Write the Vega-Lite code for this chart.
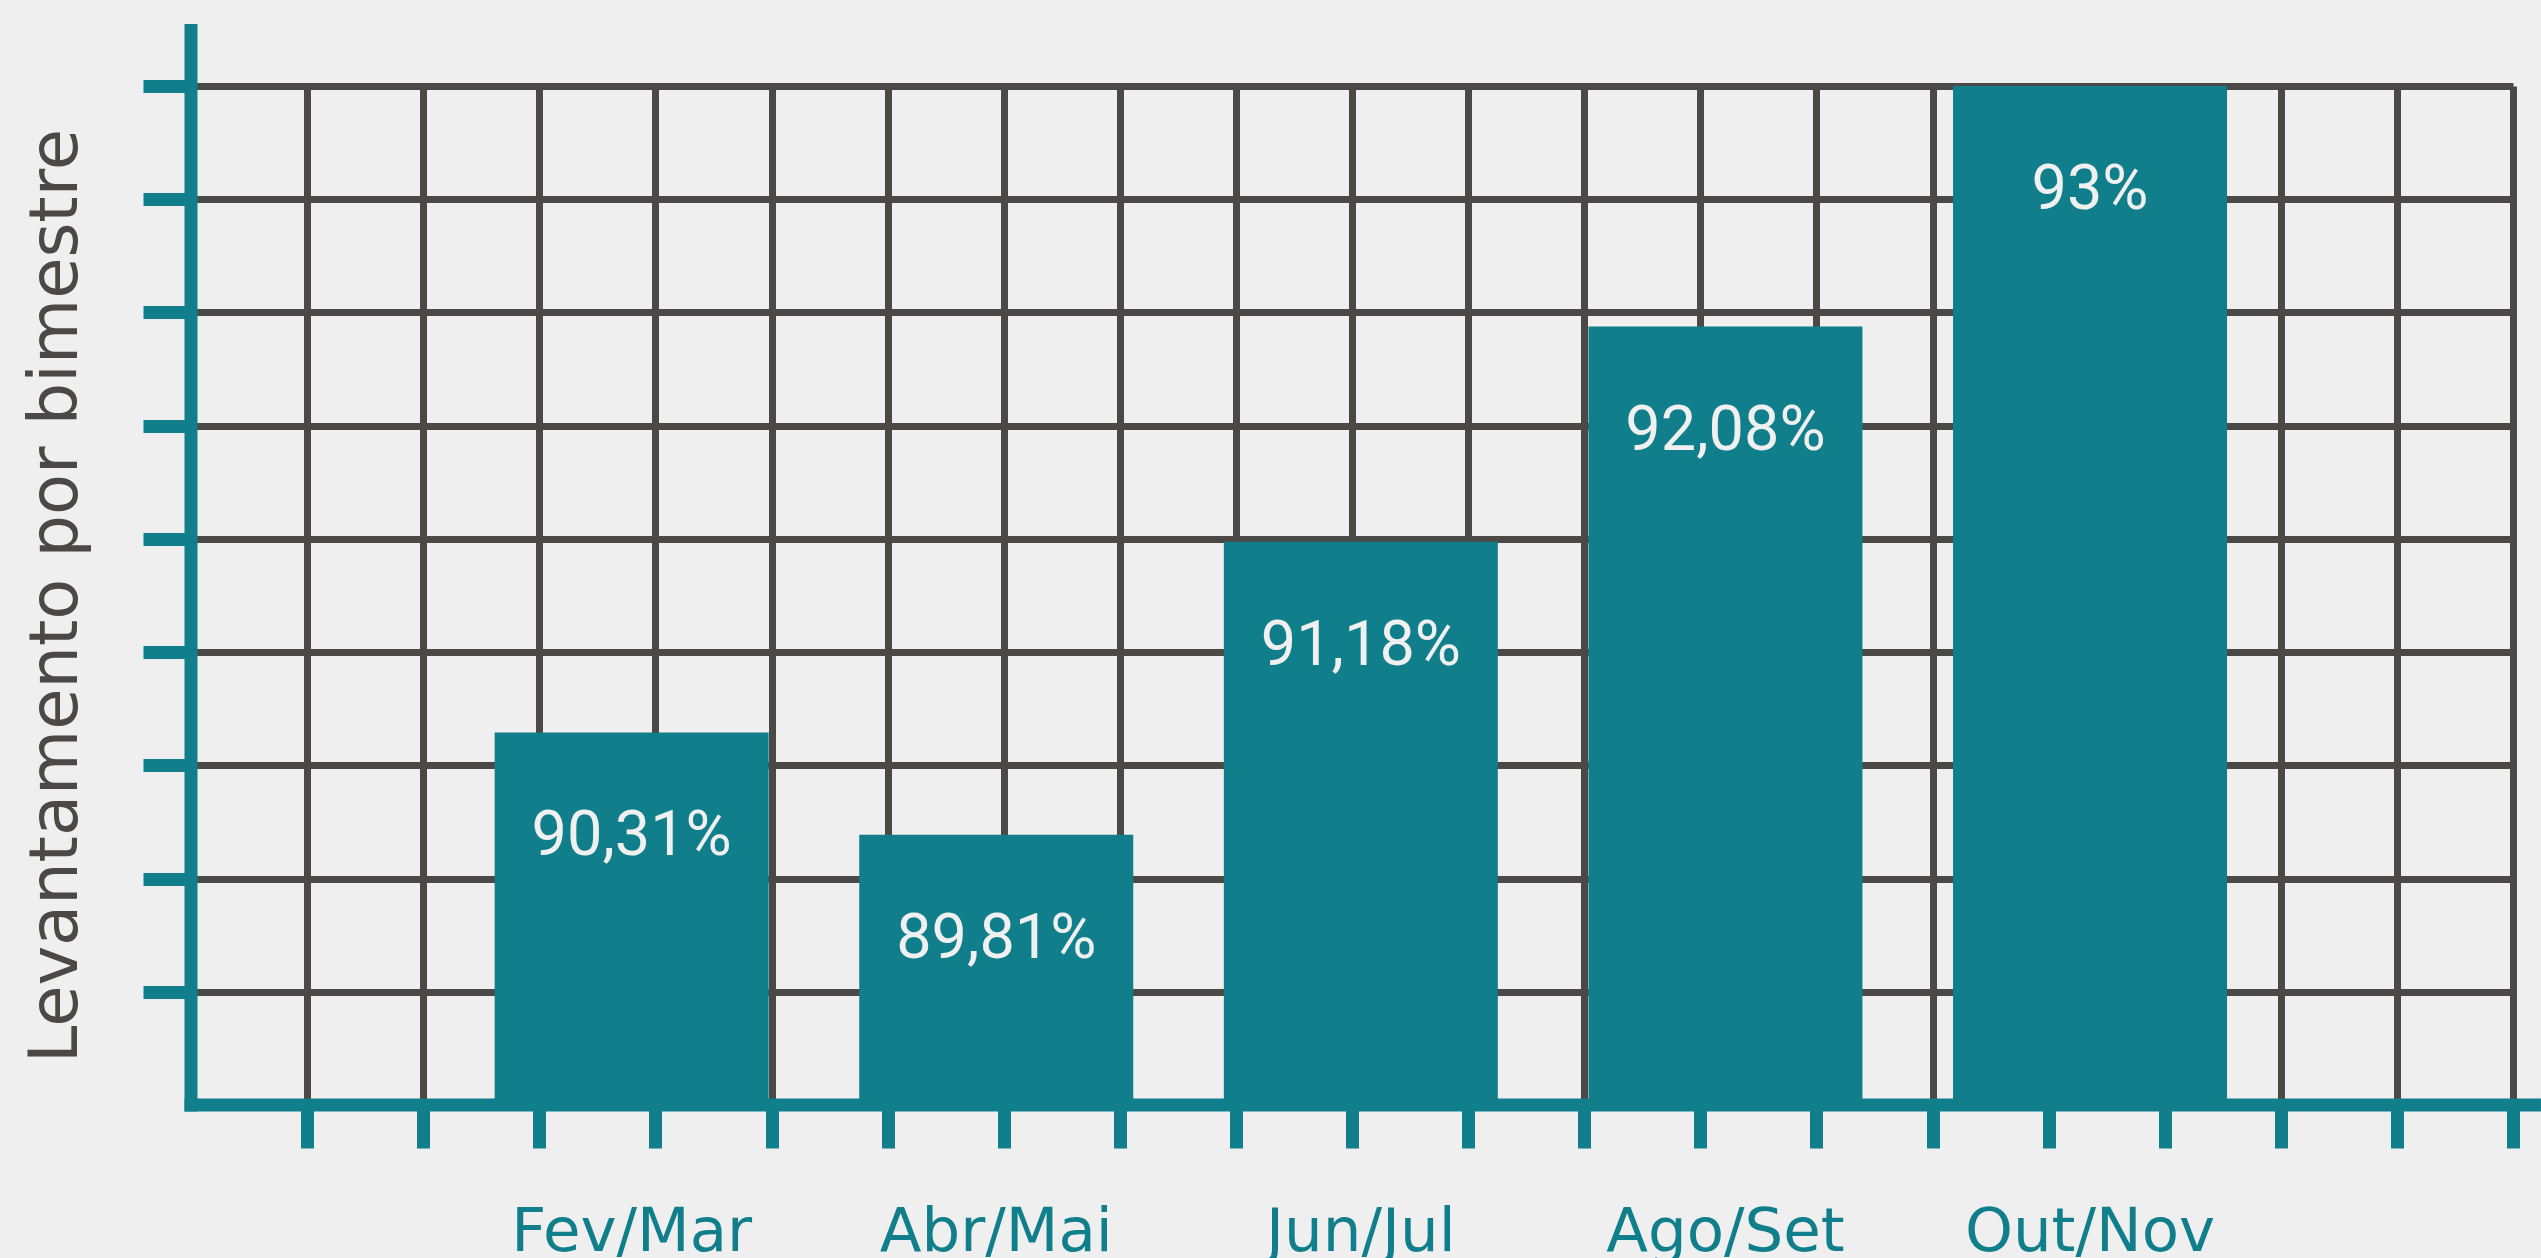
{
  "$schema": "https://vega.github.io/schema/vega-lite/v6.json",
  "width": 2322,
  "height": 1019,
  "autosize": {"type": "none"},
  "padding": {"left": 191, "top": 86, "right": 28, "bottom": 153},
  "background": "#efefef",
  "config": {"view": {"stroke": null}},
  "datasets": {
    "frame": [
      {"gx": 0, "gx2": 0, "gy": 0, "gy2": 9.49},
      {"gx": 0, "gx2": 20.185, "gy": 0, "gy2": 0}
    ],
    "bars": [
      {"periodo": "Fev/Mar", "valor": 90.31, "rotulo": "90,31%"},
      {"periodo": "Abr/Mai", "valor": 89.81, "rotulo": "89,81%"},
      {"periodo": "Jun/Jul", "valor": 91.18, "rotulo": "91,18%"},
      {"periodo": "Ago/Set", "valor": 92.08, "rotulo": "92,08%"},
      {"periodo": "Out/Nov", "valor": 93, "rotulo": "93%"}
    ]
  },
  "layer": [
    {
      "data": {"name": "bars"},
      "encoding": {
        "x": {
          "field": "periodo", "type": "nominal", "sort": null,
          "scale": {"paddingInner": 0.2485, "paddingOuter": 0.8086, "align": 0.515},
          "axis": {
            "orient": "bottom", "domain": false, "ticks": false, "grid": false,
            "labelAngle": 0, "labelFont": "DejaVu Sans", "labelFontSize": 61,
            "labelColor": "#117f8b", "labelPadding": 145, "labelBaseline": "alphabetic",
            "labelLimit": 0, "labelOverlap": false, "title": null
          }
        },
        "y": {
          "field": "valor", "type": "quantitative",
          "scale": {"type": "pow", "exponent": 10, "domain": [88.355, 93], "nice": false, "zero": false},
          "axis": null
        }
      },
      "layer": [
        {"mark": {"type": "bar", "color": "#117f8b", "clip": true}},
        {
          "mark": {"type": "text", "font": "Roboto", "fontSize": 63, "color": "#f0f0f0", "baseline": "middle", "dy": 104},
          "encoding": {"text": {"field": "rotulo"}}
        }
      ]
    },
    {
      "data": {"name": "frame"},
      "mark": {"type": "rule", "color": "#117f8b", "strokeWidth": 13, "strokeCap": "square"},
      "encoding": {
        "x": {
          "field": "gx", "type": "quantitative",
          "scale": {"domain": [0, 20], "nice": false, "zero": false},
          "axis": {
            "orient": "bottom",
            "values": [1,2,3,4,5,6,7,8,9,10,11,12,13,14,15,16,17,18,19,20],
            "grid": true, "gridColor": "#4a4945", "gridWidth": 7, "gridOpacity": 1,
            "ticks": true, "tickColor": "#117f8b", "tickWidth": 13, "tickSize": 43,
            "labels": false, "domain": false, "title": null
          }
        },
        "x2": {"field": "gx2"},
        "y": {
          "field": "gy", "type": "quantitative",
          "scale": {"domain": [0, 9], "nice": false, "zero": false},
          "axis": {
            "orient": "left",
            "values": [1,2,3,4,5,6,7,8,9],
            "grid": true, "gridColor": "#4a4945", "gridWidth": 7, "gridOpacity": 1,
            "ticks": true, "tickColor": "#117f8b", "tickWidth": 13, "tickSize": 48,
            "labels": false, "domain": false,
            "title": "Levantamento por bimestre",
            "titleFont": "DejaVu Sans", "titleFontSize": 67, "titleFontWeight": "normal",
            "titleColor": "#4a4945", "titleBaseline": "alphabetic", "titlePadding": 60
          }
        },
        "y2": {"field": "gy2"}
      }
    }
  ],
  "resolve": {
    "scale": {"x": "independent", "y": "independent"},
    "axis": {"x": "independent", "y": "independent"}
  }
}
